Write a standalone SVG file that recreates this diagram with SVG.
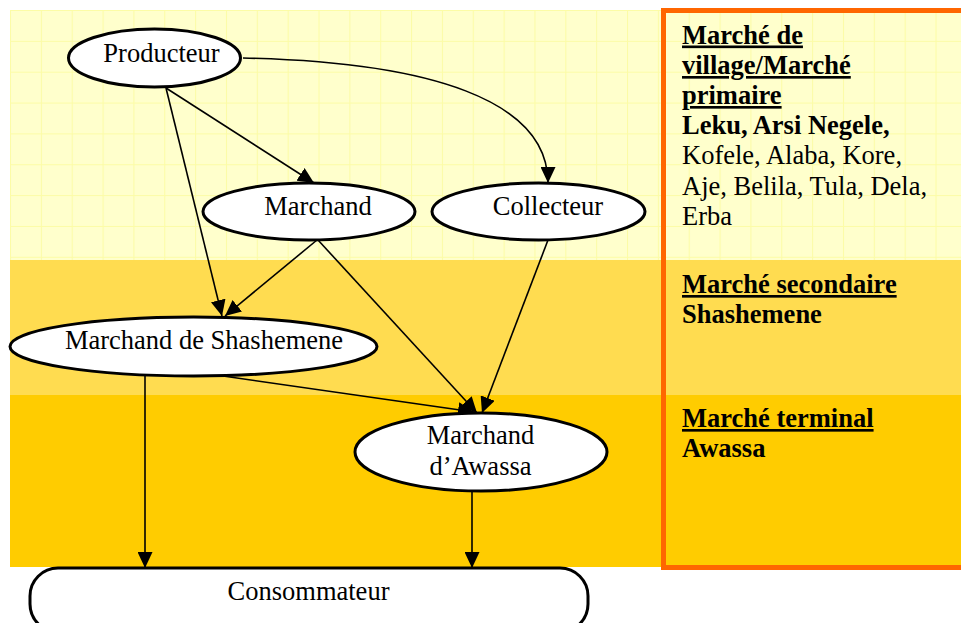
<svg xmlns="http://www.w3.org/2000/svg" width="961" height="623" viewBox="0 0 961 623">
  <defs>
    <style>
      .node { fill: #ffffff; stroke: #000000; stroke-width: 3; }
      .label { font-family: "Liberation Serif", "Times New Roman", serif; font-size: 26.5px; fill: #000000; }
      .nlabel { text-anchor: middle; }
      .b { font-weight: bold; }
      .u { text-decoration: underline; }
      .edge { fill: none; stroke: #000000; stroke-width: 1.6; marker-end: url(#arrow); }
    </style>
    <pattern id="grid" patternUnits="userSpaceOnUse" x="10" y="10" width="30.85" height="30.85">
      <rect width="30.85" height="30.85" fill="#ffffcc"/>
      <path d="M0,0.5 H30.85 M0.5,0 V30.85" stroke="#fcfca6" stroke-width="1"/>
    </pattern>
    <marker id="arrow" markerUnits="userSpaceOnUse" markerWidth="17" markerHeight="15" refX="16" refY="7.5" orient="auto">
      <path d="M0,0 L16,7.5 L0,15 Z" fill="#000000"/>
    </marker>
  </defs>

  <rect width="961" height="623" fill="#ffffff"/>

  <!-- market level bands -->
  <g id="bands">
    <rect x="10" y="10" width="951" height="250" fill="url(#grid)"/>
    <rect x="10" y="260" width="951" height="135" fill="#ffdc50"/>
    <rect x="10" y="395" width="951" height="172" fill="#ffcc00"/>
  </g>

  <!-- market legend panel -->
  <g id="legend">
    <rect x="663.5" y="10.5" width="310" height="557" fill="none" stroke="#ff6600" stroke-width="5"/>
    <text class="label b u" x="682" y="43.5">Marché de</text>
    <text class="label b u" x="682" y="74">village/Marché</text>
    <text class="label b u" x="682" y="104">primaire</text>
    <text class="label b" x="682" y="134">Leku, Arsi Negele,</text>
    <text class="label" x="682" y="164">Kofele, Alaba, Kore,</text>
    <text class="label" x="682" y="194.5">Aje, Belila, Tula, Dela,</text>
    <text class="label" x="682" y="225">Erba</text>
    <text class="label b u" x="682" y="293">Marché secondaire</text>
    <text class="label b" x="682" y="323">Shashemene</text>
    <text class="label b u" x="682" y="427">Marché terminal</text>
    <text class="label b" x="682" y="457">Awassa</text>
  </g>

  <!-- connectors -->
  <g id="connectors">
    <path class="edge" d="M166,88 L314,183"/>
    <path class="edge" d="M166,88 L222,316"/>
    <path class="edge" d="M243,58 C430,62 548,100 548,183"/>
    <path class="edge" d="M317,240 L225,316"/>
    <path class="edge" d="M318,240 L477,413"/>
    <path class="edge" d="M548,240 L482,413"/>
    <path class="edge" d="M223,376 L474,412"/>
    <path class="edge" d="M145,376 L145,568"/>
    <path class="edge" d="M472,491 L472,568"/>
  </g>

  <g id="producteur">
    <ellipse class="node" cx="154.5" cy="58" rx="86" ry="29"/>
    <text class="label nlabel" x="161.5" y="62">Producteur</text>
  </g>

  <g id="marchand">
    <ellipse class="node" cx="309" cy="211.5" rx="106" ry="28.5"/>
    <text class="label nlabel" x="318" y="215">Marchand</text>
  </g>

  <g id="collecteur">
    <ellipse class="node" cx="538.5" cy="211.5" rx="106.5" ry="28.5"/>
    <text class="label nlabel" x="548" y="215">Collecteur</text>
  </g>

  <g id="marchand-shashemene">
    <ellipse class="node" cx="193.5" cy="346.5" rx="183.5" ry="29.5"/>
    <text class="label nlabel" x="204" y="349">Marchand de Shashemene</text>
  </g>

  <g id="marchand-awassa">
    <ellipse class="node" cx="481" cy="452" rx="126" ry="39"/>
    <text class="label nlabel" x="480.5" y="444">Marchand</text>
    <text class="label nlabel" x="480.5" y="475">d’Awassa</text>
  </g>

  <g id="consommateur">
    <rect class="node" x="30" y="568" width="558" height="64" rx="28" ry="28"/>
    <text class="label nlabel" x="308.5" y="600">Consommateur</text>
  </g>
</svg>
